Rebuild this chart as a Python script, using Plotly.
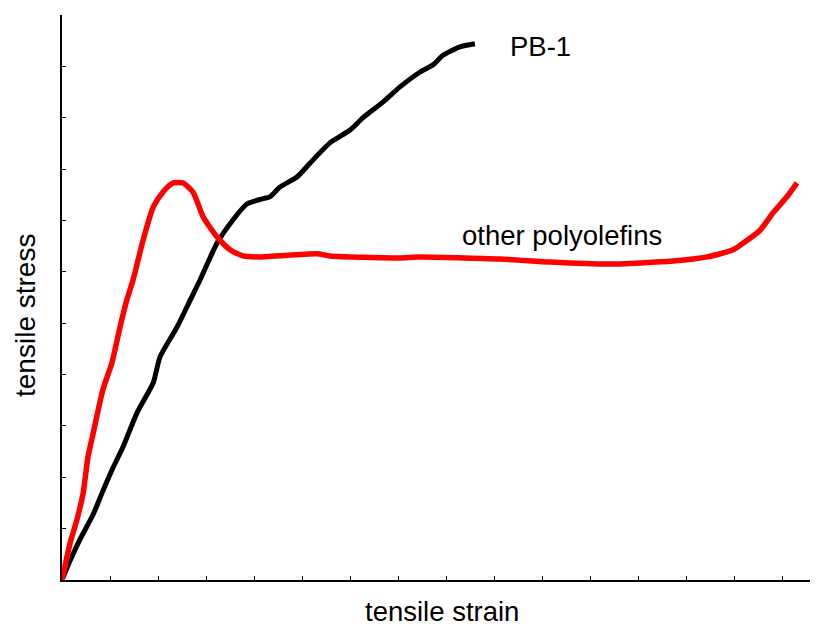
import plotly.graph_objects as go

# strain / stress (axis tick units)
pb1_strain = [0, 0.17, 0.375, 0.65, 0.85, 1.06, 1.27, 1.56, 1.90, 2.04, 2.40, 2.67, 2.875,
              3.23, 3.56, 3.85, 4.17, 4.33, 4.54, 4.90, 5.17, 5.58, 6.0, 6.27, 6.69,
              7.04, 7.46, 7.73, 7.94, 8.29, 8.60]
pb1_stress = [0, 0.38, 0.79, 1.28, 1.73, 2.18, 2.59, 3.25, 3.84, 4.34, 4.93, 5.45, 5.84,
              6.56, 7.01, 7.32, 7.42, 7.46, 7.65, 7.85, 8.12, 8.51, 8.76, 9.0, 9.31,
              9.60, 9.89, 10.03, 10.22, 10.38, 10.44]

po_strain = [0, 0.17, 0.31, 0.44, 0.54, 0.65, 0.85, 1.04, 1.21, 1.35, 1.48, 1.69, 1.90,
             2.10, 2.31, 2.52, 2.73, 2.94, 3.23, 3.5, 3.77, 4.125, 5.31, 5.58, 7.04,
             7.40, 9.125, 10.17, 11.35, 12.73, 13.44, 13.98, 14.13, 14.54, 14.81,
             15.10, 15.31]
po_stress = [0, 0.72, 1.17, 1.69, 2.39, 2.86, 3.70, 4.23, 4.93, 5.45, 5.84, 6.62, 7.26,
             7.55, 7.73, 7.73, 7.55, 7.07, 6.68, 6.43, 6.31, 6.29, 6.35, 6.31, 6.27,
             6.29, 6.25, 6.19, 6.15, 6.21, 6.29, 6.43, 6.52, 6.81, 7.15, 7.46, 7.73]

font_family = "Arial, Liberation Sans, sans-serif"

fig = go.Figure()
fig.add_trace(go.Scatter(x=pb1_strain, y=pb1_stress, mode="lines",
                         line=dict(color="black", width=5, shape="spline", smoothing=0.6)))
fig.add_trace(go.Scatter(x=po_strain, y=po_stress, mode="lines",
                         line=dict(color="#ff0000", width=5.5, shape="spline", smoothing=0.6)))

fig.add_annotation(x=9.29, y=10.38, text="PB-1", showarrow=False, xanchor="left",
                   font=dict(size=27.5, color="black", family=font_family))
fig.add_annotation(x=8.29, y=6.70, text="other polyolefins", showarrow=False, xanchor="left",
                   font=dict(size=27.5, color="black", family=font_family))

# axis titles as paper annotations so the plot area stays put
fig.add_annotation(xref="paper", yref="paper", x=0.508, y=-0.0566, text="tensile strain",
                   showarrow=False, yanchor="middle",
                   font=dict(size=27.5, color="black", family=font_family))
fig.add_annotation(xref="paper", yref="paper", x=-0.0495, y=0.469, text="tensile stress",
                   showarrow=False, textangle=-90, xanchor="center",
                   font=dict(size=28, color="black", family=font_family))

# page body has an 8px margin, so the figure is 8px smaller than the window
fig.update_layout(
    width=812, height=618,
    margin=dict(l=54, r=10, t=7, b=46),
    plot_bgcolor="white", paper_bgcolor="white",
    showlegend=False,
)
fig.update_xaxes(range=[0, 15.58], dtick=1, tick0=0, showticklabels=False,
                 ticks="inside", ticklen=4, tickcolor="black", tickwidth=1,
                 showline=True, linecolor="black", linewidth=2, showgrid=False,
                 zeroline=False, automargin=False)
fig.update_yaxes(range=[0, 11], dtick=1, tick0=0, showticklabels=False,
                 ticks="inside", ticklen=4, tickcolor="black", tickwidth=1,
                 showline=True, linecolor="black", linewidth=2, showgrid=False,
                 zeroline=False, automargin=False)

fig.write_html("out.html")
